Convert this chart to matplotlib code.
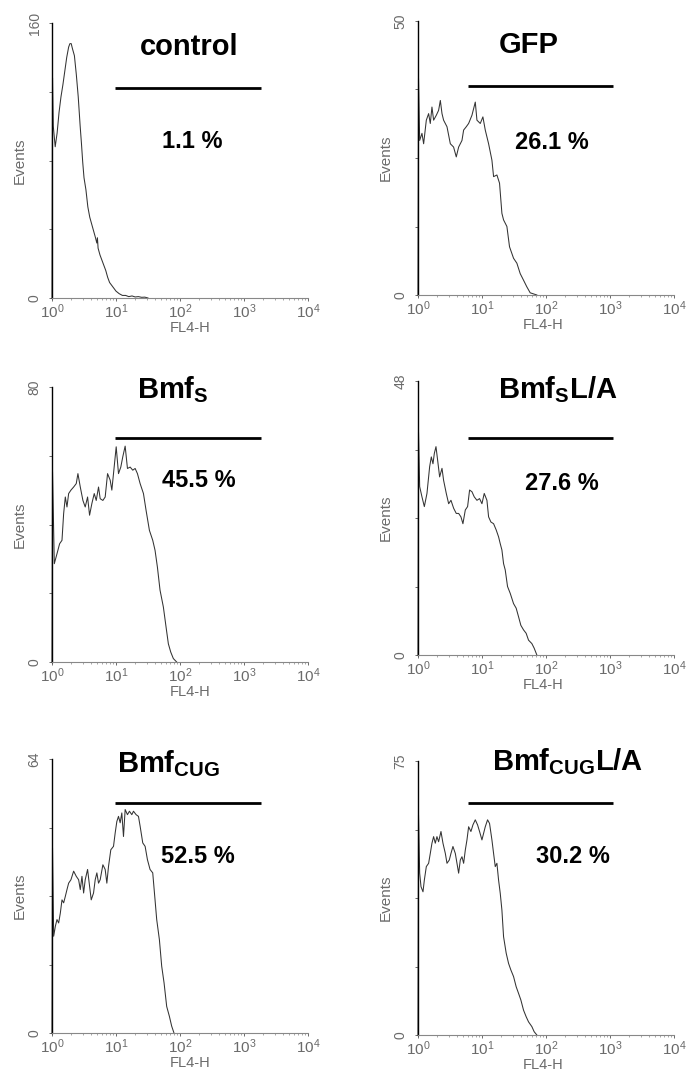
import matplotlib
matplotlib.use("Agg")
import matplotlib.pyplot as plt
from matplotlib.ticker import LogLocator, NullFormatter

plt.rcParams["font.family"] = ["Liberation Sans", "DejaVu Sans"]
plt.rcParams["mathtext.fontset"] = "custom"
plt.rcParams["mathtext.rm"] = "Liberation Sans"
plt.rcParams["mathtext.bf"] = "Liberation Sans:bold"
plt.rcParams["mathtext.it"] = "Liberation Sans:italic"

# Panel names and gate percentages
titles = ["control", "GFP", r"$\mathbf{Bmf_{S}}$", r"$\mathbf{Bmf_{S}L/A}$",
          r"$\mathbf{Bmf_{CUG}}$", r"$\mathbf{Bmf_{CUG}L/A}$"]
percents = ["1.1 %", "26.1 %", "45.5 %", "27.6 %", "52.5 %", "30.2 %"]
y_max = [160, 50, 80, 48, 64, 75]

# Gate marker (decades of FL4-H, height in events)
gate_lo = [0.99, 0.78, 0.99, 0.78, 0.99, 0.78]
gate_hi = [3.26, 3.05, 3.26, 3.05, 3.26, 3.05]
gate_y = [122, 38.1, 65.2, 38.0, 53.7, 63.5]

x_tick_labels = [r"$\mathregular{10^{0}}$", r"$\mathregular{10^{1}}$",
                 r"$\mathregular{10^{2}}$", r"$\mathregular{10^{3}}$",
                 r"$\mathregular{10^{4}}$"]

# Histograms: FL4-H position in decades (log10) and event counts
ctrl_logx = [0.0, 0.008, 0.02, 0.05, 0.08, 0.11, 0.14, 0.17, 0.20, 0.23,
             0.26, 0.28, 0.30, 0.32, 0.35, 0.38, 0.41, 0.44, 0.46, 0.48,
             0.50, 0.53, 0.56, 0.59, 0.62, 0.65, 0.68, 0.70, 0.71, 0.72,
             0.75, 0.78, 0.81, 0.84, 0.87, 0.90, 0.93, 0.96, 1.00, 1.05,
             1.10, 1.15, 1.20, 1.25, 1.30, 1.35, 1.40, 1.45, 1.50]
ctrl_counts = [0, 128, 100, 88, 96, 108, 117, 124, 132, 140,
               146, 148, 148, 145, 141, 130, 117, 100, 90, 79,
               70, 63, 53, 47, 43, 39, 35, 32, 35, 29,
               25, 22, 19, 16, 12, 9, 7.5, 6, 4, 2.5,
               1.5, 1.5, 0.8, 1.2, 0.6, 0.8, 0.4, 0.5, 0]

gfp_logx = [0.0, 0.008, 0.026, 0.062, 0.088, 0.13, 0.166, 0.192, 0.218, 0.244,
            0.286, 0.322, 0.349, 0.375, 0.40, 0.453, 0.505, 0.556, 0.598, 0.635,
            0.687, 0.713, 0.754, 0.791, 0.843, 0.895, 0.921, 0.973, 1.014, 1.051,
            1.103, 1.155, 1.181, 1.233, 1.274, 1.311, 1.337, 1.389, 1.43, 1.493,
            1.545, 1.597, 1.649, 1.70, 1.753, 1.857]
gfp_counts = [0, 39.5, 28.2, 29.5, 27.6, 31.9, 33.1, 31.3, 34.3, 31.9,
              32.8, 33.7, 35.5, 33.1, 31.9, 30.7, 27.6, 27.0, 25.2, 27.0,
              28.2, 30.1, 30.7, 31.3, 32.8, 35.2, 31.9, 31.3, 32.5, 30.1,
              27.6, 24.6, 21.6, 21.9, 20.4, 14.9, 13.7, 12.5, 8.8, 6.7,
              5.8, 3.9, 2.7, 1.5, 0.4, 0]

bmfs_logx = [0.0, 0.008, 0.036, 0.078, 0.119, 0.156, 0.182, 0.208, 0.234, 0.26,
             0.296, 0.338, 0.379, 0.405, 0.442, 0.483, 0.519, 0.556, 0.587, 0.623,
             0.66, 0.691, 0.727, 0.753, 0.795, 0.831, 0.868, 0.909, 0.935, 0.961,
             1.003, 1.039, 1.075, 1.106, 1.143, 1.179, 1.221, 1.262, 1.299, 1.335,
             1.377, 1.429, 1.47, 1.522, 1.574, 1.61, 1.647, 1.688, 1.74, 1.782,
             1.818, 1.855, 1.896, 1.948]
bmfs_counts = [0, 55.3, 28.6, 31.5, 34.4, 35.4, 43.2, 48.0, 45.1, 49.0,
               50.0, 50.9, 51.9, 54.8, 50.9, 47.0, 45.1, 48.0, 42.7, 46.1,
               49.0, 47.0, 50.9, 47.5, 47.0, 48.0, 54.8, 52.9, 50.0, 54.8,
               62.6, 54.8, 56.7, 59.7, 62.8, 56.3, 56.7, 55.8, 56.3, 54.8,
               51.9, 49.0, 44.1, 38.3, 35.4, 32.5, 27.6, 20.9, 16.0, 10.2,
               5.3, 2.9, 1.0, 0]

bmfs_la_logx = [0.0, 0.008, 0.026, 0.062, 0.099, 0.14, 0.182, 0.208, 0.234, 0.255,
                0.281, 0.307, 0.338, 0.375, 0.40, 0.442, 0.479, 0.515, 0.557, 0.598,
                0.635, 0.671, 0.702, 0.739, 0.775, 0.806, 0.843, 0.879, 0.921, 0.962,
                0.999, 1.035, 1.077, 1.103, 1.139, 1.181, 1.222, 1.259, 1.285, 1.311,
                1.337, 1.363, 1.399, 1.441, 1.493, 1.534, 1.571, 1.607, 1.649, 1.69,
                1.727, 1.779, 1.815, 1.857]
bmfs_la_counts = [0, 39.0, 29.5, 27.7, 26.0, 28.3, 33.0, 34.7, 33.5, 35.3,
                  36.5, 34.1, 31.2, 32.7, 30.6, 28.3, 26.5, 27.1, 25.7, 24.8,
                  24.8, 24.2, 23.0, 25.4, 26.0, 28.9, 28.6, 27.7, 27.1, 27.4,
                  26.5, 28.3, 27.1, 24.2, 23.3, 23.0, 21.9, 20.7, 19.5, 18.4,
                  16.0, 14.9, 12.0, 10.8, 9.0, 8.2, 6.7, 5.2, 4.4, 3.8,
                  2.6, 2.0, 1.2, 0]

bmfcug_logx = [0.0, 0.008, 0.026, 0.052, 0.078, 0.104, 0.13, 0.156, 0.182, 0.208,
               0.234, 0.26, 0.296, 0.338, 0.379, 0.416, 0.442, 0.468, 0.494, 0.519,
               0.556, 0.587, 0.613, 0.649, 0.675, 0.701, 0.727, 0.753, 0.795, 0.831,
               0.857, 0.883, 0.919, 0.961, 0.987, 1.013, 1.039, 1.065, 1.091, 1.117,
               1.143, 1.179, 1.21, 1.247, 1.273, 1.314, 1.351, 1.377, 1.418, 1.455,
               1.491, 1.532, 1.574, 1.61, 1.636, 1.678, 1.714, 1.751, 1.792, 1.834,
               1.87, 1.906]
bmfcug_counts = [0, 43.2, 22.6, 24.9, 26.5, 25.7, 28.0, 31.1, 30.4, 31.9,
                 33.5, 35.0, 35.8, 37.8, 36.6, 35.8, 33.5, 36.6, 32.7, 35.8,
                 38.2, 34.3, 31.1, 32.7, 35.8, 37.4, 35.0, 35.8, 39.3, 38.2,
                 35.0, 38.9, 42.8, 43.6, 46.7, 49.4, 50.6, 49.1, 51.4, 45.9,
                 52.2, 51.0, 51.8, 51.0, 51.8, 51.0, 50.6, 48.3, 44.4, 43.6,
                 40.5, 38.2, 37.4, 31.1, 26.5, 21.8, 15.6, 11.7, 6.2, 3.9,
                 1.6, 0]

bmfcug_la_logx = [0.0, 0.008, 0.026, 0.047, 0.078, 0.099, 0.13, 0.166, 0.192, 0.218,
                  0.244, 0.27, 0.296, 0.322, 0.359, 0.39, 0.427, 0.453, 0.489, 0.515,
                  0.546, 0.583, 0.609, 0.635, 0.661, 0.687, 0.713, 0.739, 0.765, 0.791,
                  0.827, 0.858, 0.895, 0.931, 0.962, 0.999, 1.025, 1.051, 1.087, 1.118,
                  1.155, 1.181, 1.207, 1.233, 1.259, 1.285, 1.311, 1.337, 1.378, 1.415,
                  1.451, 1.493, 1.534, 1.571, 1.607, 1.649, 1.69, 1.727, 1.779, 1.815,
                  1.857]
bmfcug_la_counts = [0, 60.2, 44.3, 40.6, 39.2, 42.4, 46.1, 47.0, 49.7, 52.5,
                    54.3, 52.5, 54.3, 52.9, 55.7, 52.5, 49.7, 47.0, 47.9, 49.7,
                    51.6, 49.7, 47.0, 44.3, 47.9, 48.8, 47.0, 50.6, 53.4, 57.0,
                    55.7, 57.5, 58.9, 57.5, 55.7, 53.4, 55.2, 57.0, 58.9, 57.9,
                    53.4, 49.7, 46.1, 47.0, 42.4, 38.8, 34.2, 26.9, 22.4, 19.6,
                    17.8, 16.0, 13.2, 11.4, 9.6, 6.8, 5.0, 3.6, 2.3, 0.9,
                    0]

series_logx = [ctrl_logx, gfp_logx, bmfs_logx, bmfs_la_logx,
               bmfcug_logx, bmfcug_la_logx]
series_counts = [ctrl_counts, gfp_counts, bmfs_counts, bmfs_la_counts,
                 bmfcug_counts, bmfcug_la_counts]

# Layout in pixels: (left, top, bottom) of each plot area
W, H = 697, 1072
boxes = [(52, 23, 298), (418, 21, 295),
         (52, 387, 662), (418, 381, 655),
         (52, 759, 1033), (418, 761, 1035)]
title_pos = [(189, 55), (529, 53), (173, 398), (558, 398), (168, 772), (568, 770)]
pct_pos = [(192, 148), (552, 149), (199, 487), (562, 490), (198, 863), (573, 863)]
ax_w = 256
grey = "#6a6a6a"

fig = plt.figure(figsize=(W / 100, H / 100), dpi=100)

for i in range(6):
    left, top, bottom = boxes[i]
    ax = fig.add_axes([left / W, 1 - bottom / H, ax_w / W, (bottom - top) / H])

    xs = [10 ** v for v in series_logx[i]]
    ax.plot(xs, series_counts[i], color="#333333", lw=0.75, clip_on=False)
    ax.plot([10 ** gate_lo[i], 10 ** gate_hi[i]], [gate_y[i], gate_y[i]],
            color="black", lw=2.0, solid_capstyle="butt")

    ax.set_xscale("log")
    ax.set_xlim(1, 1e4)
    ax.set_ylim(0, y_max[i])

    # Axes frame
    for s in ["top", "right"]:
        ax.spines[s].set_visible(False)
    ax.spines["left"].set_color("black")
    ax.spines["left"].set_linewidth(1.0)
    ax.spines["bottom"].set_color("#888888")
    ax.spines["bottom"].set_linewidth(0.8)

    ax.set_xticks([1, 10, 100, 1000, 10000])
    ax.set_xticklabels(x_tick_labels)
    ax.xaxis.set_minor_locator(LogLocator(base=10, subs=range(2, 10)))
    ax.xaxis.set_minor_formatter(NullFormatter())
    ax.tick_params(axis="x", which="major", length=2.5, width=0.7, color=grey,
                   labelcolor=grey, labelsize=11, pad=0.5)
    ax.tick_params(axis="x", which="minor", length=1.5, width=0.6, color="#999999")

    q = y_max[i] / 4
    ax.set_yticks([0, q, 2 * q, 3 * q, y_max[i]])
    ax.set_yticklabels(["0", "", "", "", str(y_max[i])])
    ax.tick_params(axis="y", length=2.5, width=0.7, color=grey, labelcolor=grey,
                   labelsize=10, labelrotation=90, pad=5)
    for lab in ax.get_yticklabels():
        lab.set_verticalalignment("center")

    ax.set_xlabel("FL4-H", color=grey, fontsize=10.5)
    ax.set_ylabel("Events", color=grey, fontsize=11)
    ax.xaxis.set_label_coords(0.54 if left < 300 else 0.49, -0.083)
    ax.yaxis.set_label_coords(-0.098, 0.5)
    ax.patch.set_visible(False)

    tx, ty = title_pos[i]
    fig.text(tx / W, 1 - ty / H, titles[i], ha="center", va="baseline",
             fontsize=21, fontweight="bold")
    px, py = pct_pos[i]
    fig.text(px / W, 1 - py / H, percents[i], ha="center", va="baseline",
             fontsize=17, fontweight="bold")

fig.savefig("out.png", dpi=100)
